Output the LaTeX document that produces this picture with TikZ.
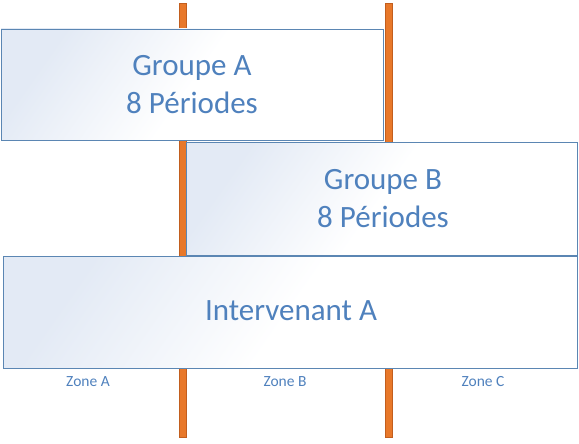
\documentclass[tikz,border=0pt]{standalone}
\usepackage{fontspec}
\setmainfont{Carlito}
\definecolor{txtblue}{HTML}{4F81BD}
\definecolor{boxline}{HTML}{5B86B3}
\definecolor{boxfill}{HTML}{E3EAF5}
\definecolor{polefill}{HTML}{E8782A}
\definecolor{poleline}{HTML}{C25E1E}
\tikzset{
  bandbox/.style={draw=boxline, line width=0.9pt, left color=boxfill, right color=white, middle color=white, shading angle=55},
  pole/.style={fill=polefill, draw=poleline, line width=0.7pt},
  bigtext/.style={text=txtblue, font=\fontsize{31}{38}\selectfont, align=center},
  zonetext/.style={text=txtblue, font=\fontsize{15.5}{18}\selectfont}
}
\begin{document}
\begin{tikzpicture}[x=1pt,y=-1pt]
\useasboundingbox (0,0) rectangle (579,444);
% poles
\filldraw[pole] (179.5,3) rectangle (186,437);
\filldraw[pole] (385.5,3) rectangle (392,437);
% boxes
\shade[bandbox] (1,29) rectangle (383,140);
\draw[boxline, line width=0.9pt] (1,29) rectangle (383,140);
\node[bigtext] (ga) at (192,85) {Groupe A\\8 Périodes};
\shade[bandbox] (186,142) rectangle (577,255);
\draw[boxline, line width=0.9pt] (186,142) rectangle (577,255);
\node[bigtext] (gb) at (383,199) {Groupe B\\8 Périodes};
\shade[bandbox] (3,256) rectangle (577,368);
\draw[boxline, line width=0.9pt] (3,256) rectangle (577,368);
\node[bigtext] (ia) at (291,311) {Intervenant A};
% zone labels
\node[zonetext] (za) at (88,382) {Zone A};
\node[zonetext] (zb) at (285,382) {Zone B};
\node[zonetext] (zc) at (483,382) {Zone C};
\end{tikzpicture}
\end{document}
